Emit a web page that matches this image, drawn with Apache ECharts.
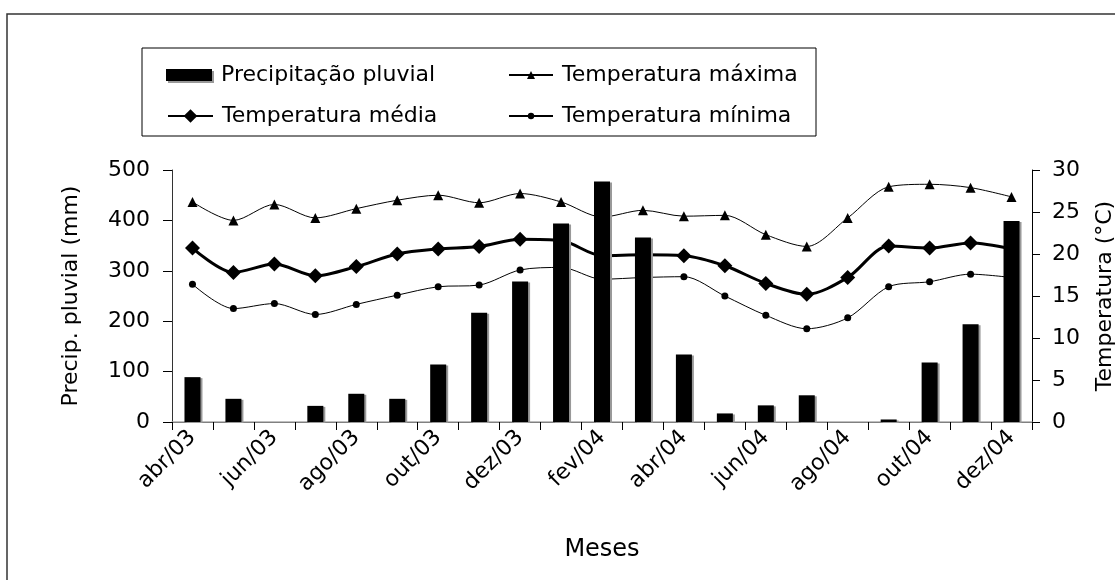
<!DOCTYPE html>
<html>
<head>
<meta charset="utf-8">
<script src="https://cdn.jsdelivr.net/npm/echarts@6/dist/echarts.min.js"></script>
<style>html,body{margin:0;padding:0;background:#fff}#c{width:1115px;height:580px}</style>
</head>
<body>
<div id="c"></div>
<script>
var months = ['abr/03','mai/03','jun/03','jul/03','ago/03','set/03','out/03','nov/03','dez/03','jan/04','fev/04','mar/04','abr/04','mai/04','jun/04','jul/04','ago/04','set/04','out/04','nov/04','dez/04'];
var precip = [89,46,0,32,56,46,114,217,279,394,477,366,134,17,33,53,0,5,118,194,399];
var tMax = [26.2,24.0,25.9,24.3,25.4,26.4,27.0,26.1,27.2,26.2,24.4,25.2,24.5,24.6,22.3,20.9,24.3,28.0,28.3,27.9,26.8];
var tMed = [20.7,17.8,18.8,17.4,18.5,20.0,20.6,20.9,21.75,21.6,19.8,19.9,19.8,18.6,16.5,15.2,17.2,20.95,20.7,21.3,20.6];
var tMin = [16.4,13.5,14.1,12.8,14.0,15.1,16.1,16.3,18.1,18.4,17.0,17.2,17.3,15.0,12.7,11.1,12.4,16.1,16.7,17.6,17.2];
var leftTicks = [0,100,200,300,400,500];
var rightTicks = [0,5,10,15,20,25,30];

var FONT = 'DejaVu Sans';
var chart = echarts.init(document.getElementById('c'), null, {renderer:'canvas'});
var legText = {fontFamily: FONT, fontSize: 22, color: '#000', padding: [0,0,0,4]};
var option = {
  animation: false,
  backgroundColor: '#fff',
  textStyle: {fontFamily: FONT, color: '#000'},
  graphic: [
    {type:'rect', shape:{x:7, y:14, width:1300, height:800}, style:{fill:'none', stroke:'#333', lineWidth:1.5}, silent:true, z:-1},
    {type:'rect', shape:{x:142, y:48, width:674, height:88}, style:{fill:'none', stroke:'#000', lineWidth:1}, silent:true}
  ],
  legend: [
    {data:['Precipitação pluvial'], left:161, top:59, itemWidth:46, itemHeight:12, icon:'rect', textStyle:legText,
     itemStyle:{color:'#000', shadowColor:'#999', shadowOffsetX:2, shadowOffsetY:2, shadowBlur:0}},
    {data:['Temperatura média'], left:162, top:100, itemWidth:45, itemHeight:17, textStyle:legText},
    {data:['Temperatura máxima'], left:503, top:59, itemWidth:44, itemHeight:10, textStyle:legText},
    {data:['Temperatura mínima'], left:503, top:100, itemWidth:44, itemHeight:8, textStyle:legText}
  ],
  grid: {left:172, right:83, top:170, bottom:158, containLabel:false, outerBoundsMode:'none'},
  xAxis: [
    {type:'category', data:months, boundaryGap:true,
     name:'Meses', nameLocation:'middle', nameGap:116, nameTextStyle:{fontFamily:FONT, fontSize:24, color:'#000'},
     axisLine:{lineStyle:{color:'#000', width:1}},
     axisTick:{show:true, alignWithLabel:false, interval:0, length:8, lineStyle:{color:'#000'}},
     axisLabel:{interval:1, rotate:45, margin:12, fontFamily:FONT, fontSize:22, color:'#000'}},
    {type:'category', data:months, position:'top', boundaryGap:true,
     axisLine:{show:true, lineStyle:{color:'#aaa', width:1.5}}, axisTick:{show:false}, axisLabel:{show:false}}
  ],
  yAxis: [
    {type:'value', min:leftTicks[0], max:leftTicks[leftTicks.length-1], interval:100, position:'left',
     name:'Precip. pluvial (mm)', nameLocation:'middle', nameGap:90, nameRotate:90,
     nameTextStyle:{fontFamily:FONT, fontSize:22, color:'#000'},
     axisLine:{show:true, lineStyle:{color:'#333', width:1}},
     axisTick:{show:true, length:9, lineStyle:{color:'#000'}},
     axisLabel:{margin:22, fontFamily:FONT, fontSize:22, color:'#000'},
     splitLine:{show:false}},
    {type:'value', min:rightTicks[0], max:rightTicks[rightTicks.length-1], interval:5, position:'right',
     name:'Temperatura (°C)', nameLocation:'middle', nameGap:62, nameRotate:90,
     nameTextStyle:{fontFamily:FONT, fontSize:22, color:'#000'},
     axisLine:{show:true, lineStyle:{color:'#000', width:1}},
     axisTick:{show:true, length:8, lineStyle:{color:'#000'}},
     axisLabel:{margin:20, fontFamily:FONT, fontSize:22, color:'#000'},
     splitLine:{show:false}}
  ],
  series: [
    {name:'Precipitação pluvial', type:'bar', data:precip, xAxisIndex:0, yAxisIndex:0, barWidth:16, z:5,
     itemStyle:{color:'#000', shadowColor:'#999', shadowOffsetX:2, shadowOffsetY:1, shadowBlur:0}},
    {name:'Temperatura máxima', type:'line', data:tMax, yAxisIndex:1, smooth:0.3, z:2,
     symbol:'triangle', symbolSize:10, lineStyle:{color:'#000', width:1}, itemStyle:{color:'#000'}},
    {name:'Temperatura média', type:'line', data:tMed, yAxisIndex:1, smooth:0.3, z:3,
     symbol:'diamond', symbolSize:15, lineStyle:{color:'#000', width:3}, itemStyle:{color:'#000'}},
    {name:'Temperatura mínima', type:'line', data:tMin, yAxisIndex:1, smooth:0.3, z:2,
     symbol:'circle', symbolSize:7, lineStyle:{color:'#000', width:1}, itemStyle:{color:'#000'}}
  ]
};
chart.setOption(option);
</script>
</body>
</html>
